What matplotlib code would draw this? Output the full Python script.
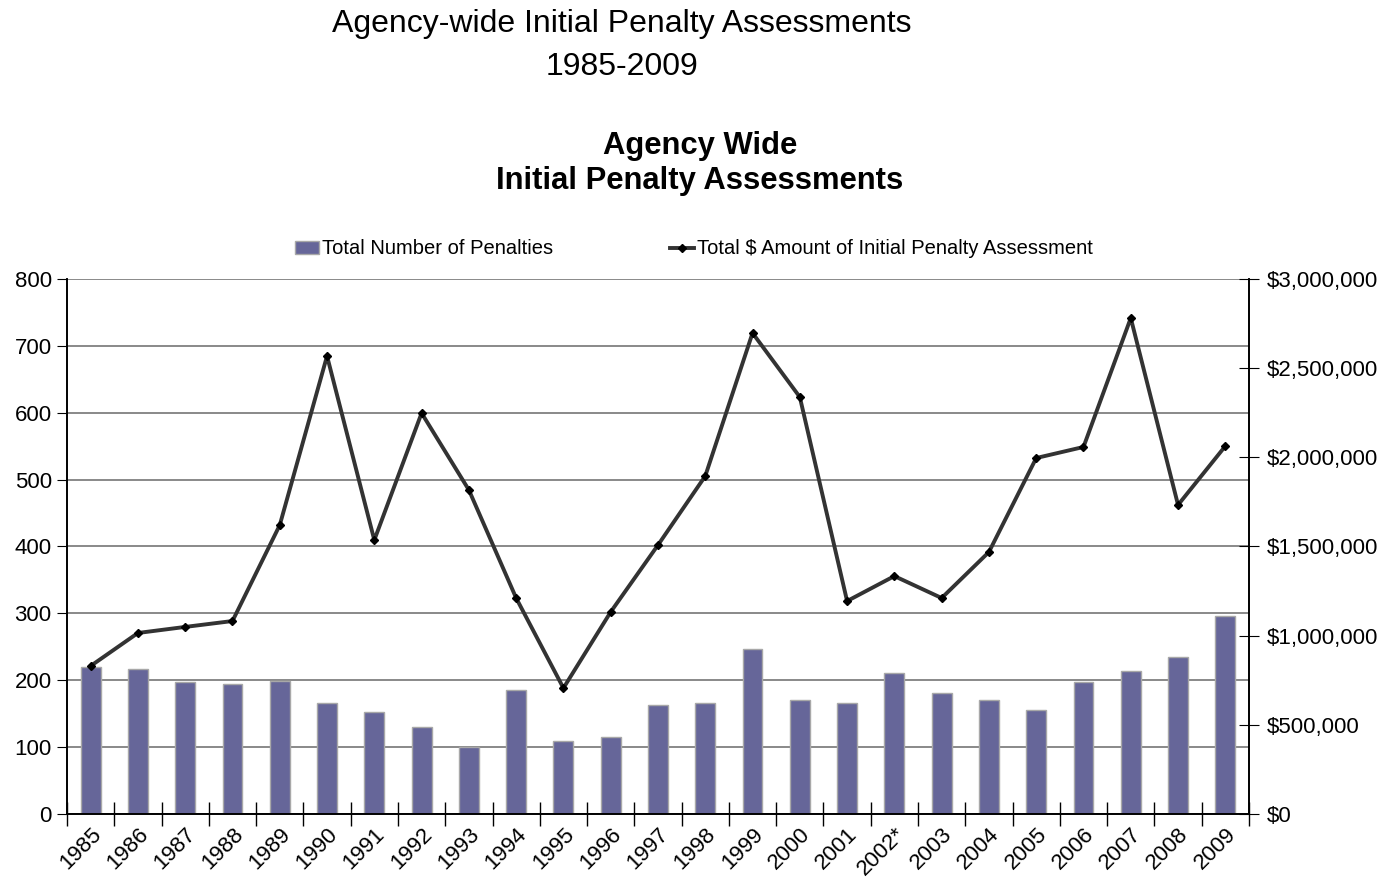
import numpy as np
import matplotlib.pyplot as plt
from matplotlib.ticker import FuncFormatter, FixedLocator

plt.rcParams['font.family'] = ['Liberation Sans', 'DejaVu Sans']

# Datos por año
anios = ['1985', '1986', '1987', '1988', '1989', '1990', '1991', '1992', '1993',
         '1994', '1995', '1996', '1997', '1998', '1999', '2000', '2001', '2002*',
         '2003', '2004', '2005', '2006', '2007', '2008', '2009']
num_penalidades = [220, 217, 197, 194, 199, 166, 152, 130, 100, 185, 109, 115, 163,
                   166, 247, 170, 166, 211, 181, 170, 155, 197, 214, 235, 296]
monto_total = [830000, 1015000, 1049000, 1082000, 1620000, 2568000, 1536000,
               2248000, 1817000, 1211000, 706000, 1133000, 1508000, 1895000,
               2697000, 2338000, 1194000, 1334000, 1211000, 1469000, 1996000,
               2058000, 2781000, 1733000, 2063000]

x = np.arange(len(anios))

fig = plt.figure(figsize=(13.93, 8.84), dpi=100)
ax = fig.add_axes([0.0481, 0.0792, 0.8485, 0.6052])
ax2 = ax.twinx()

# Barras: numero de penalidades
barras = ax.bar(x, num_penalidades, width=0.42, color='#666699',
                edgecolor='#a8a8a8', linewidth=1.0, zorder=2,
                label='Total Number of Penalties')
ax.set_ylim(0, 800)
ax.set_xlim(-0.5, len(anios) - 0.5)
ax.set_yticks(np.arange(0, 801, 100))
ax.yaxis.grid(True, color='#808080', linewidth=1.3, zorder=0)
ax.set_axisbelow(True)

# Linea: monto total
linea, = ax2.plot(x, monto_total, color='#333333', linewidth=2.8,
                  marker='D', markersize=4.5, markerfacecolor='black',
                  markeredgecolor='black',
                  label='Total $ Amount of Initial Penalty Assessment')
ax2.set_ylim(0, 3000000)
ax2.set_yticks(np.arange(0, 3000001, 500000))
ax2.yaxis.set_major_formatter(FuncFormatter(lambda v, p: '${:,.0f}'.format(v)))

# Ejes y marcas
ax.set_xticks(x)
ax.set_xticklabels(anios, rotation=45, ha='right', rotation_mode='anchor',
                   fontsize=16)
ax.xaxis.set_minor_locator(FixedLocator(np.arange(-0.5, len(anios), 1)))
ax.tick_params(axis='x', which='major', length=0, pad=7)
ax.tick_params(axis='x', which='minor', length=17, direction='inout',
               width=1.0, color='black')
ax.tick_params(axis='y', direction='out', length=7, labelsize=16, pad=4)
ax2.tick_params(axis='y', direction='inout', length=14, labelsize=16, pad=6)

for a in (ax, ax2):
    a.spines['top'].set_visible(False)
    for s in ('left', 'right', 'bottom'):
        a.spines[s].set_color('black')
        a.spines[s].set_linewidth(1.2)

# Titulos
fig.text(622 / 1393, 1 - 24 / 884, 'Agency-wide Initial Penalty Assessments',
         ha='center', va='center', fontsize=23)
fig.text(622 / 1393, 1 - 67 / 884, '1985-2009', ha='center', va='center',
         fontsize=23)
fig.text(700 / 1393, 1 - 146 / 884, 'Agency Wide', ha='center', va='center',
         fontsize=22.3, fontweight='bold')
fig.text(700 / 1393, 1 - 181 / 884, 'Initial Penalty Assessments', ha='center',
         va='center', fontsize=22.3, fontweight='bold')

fig.legend([barras, linea],
           ['Total Number of Penalties', 'Total $ Amount of Initial Penalty Assessment'],
           loc='center', bbox_to_anchor=(694 / 1393, 1 - 249 / 884), ncol=2,
           frameon=False, fontsize=14.5, handlelength=1.2, handletextpad=0.15,
           columnspacing=5.8, handleheight=0.6)

plt.savefig('out.png', dpi=100)
